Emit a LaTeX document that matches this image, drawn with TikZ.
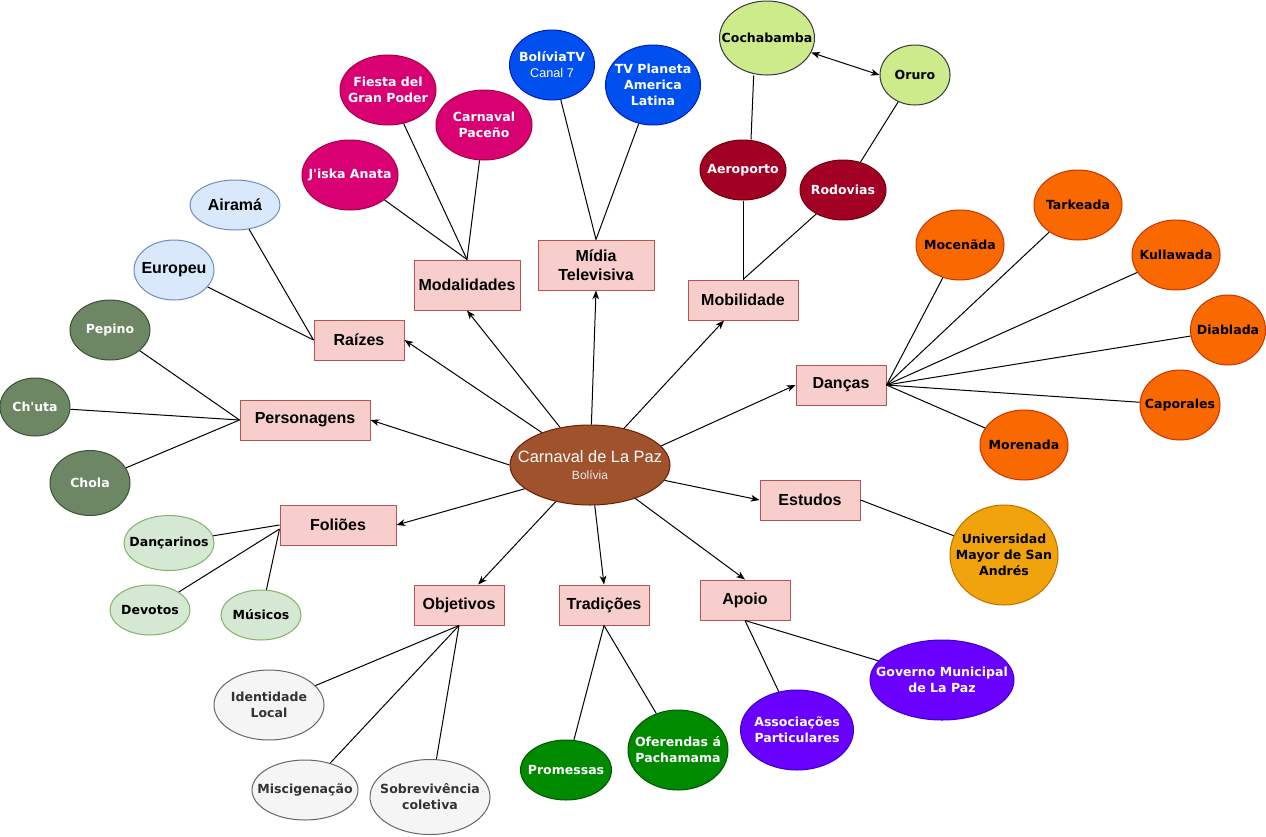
\documentclass[tikz,border=0pt]{standalone}
\usepackage{fontspec}
\setmainfont{Liberation Sans}
\newfontfamily\dejavu{DejaVu Sans}[Ligatures=TeXOff]
\usetikzlibrary{shapes.geometric,arrows.meta}
\definecolor{boxfill}{HTML}{F8CECC}\definecolor{boxline}{HTML}{B85450}
\definecolor{cfill}{HTML}{A0522D}\definecolor{cline}{HTML}{6D1F00}
\definecolor{modaf}{HTML}{D80073}\definecolor{modal}{HTML}{A50040}
\definecolor{raif}{HTML}{DAE8FC}\definecolor{rail}{HTML}{6C8EBF}
\definecolor{perf}{HTML}{6D8764}\definecolor{perl}{HTML}{3A5431}
\definecolor{folf}{HTML}{D5E8D4}\definecolor{foll}{HTML}{82B366}
\definecolor{objf}{HTML}{F5F5F5}\definecolor{objl}{HTML}{666666}\definecolor{objt}{HTML}{333333}
\definecolor{traf}{HTML}{008A00}\definecolor{tral}{HTML}{005700}
\definecolor{apof}{HTML}{6A00FF}\definecolor{apol}{HTML}{3700CC}
\definecolor{estf}{HTML}{F0A30A}\definecolor{estl}{HTML}{BD7000}
\definecolor{danf}{HTML}{FA6800}\definecolor{danl}{HTML}{C73500}
\definecolor{midf}{HTML}{0050EF}\definecolor{midl}{HTML}{001DBC}
\definecolor{mobf}{HTML}{A20025}\definecolor{mobl}{HTML}{6F0000}
\definecolor{cityf}{HTML}{CDEB8B}\definecolor{cityl}{HTML}{36393D}
\begin{document}
\begin{tikzpicture}[x=0.75pt,y=-0.75pt,
  sz/.style 2 args={minimum width=#1*0.75pt, minimum height=#2*0.75pt},
  bx/.style={rectangle, draw=boxline, fill=boxfill, line width=0.75pt, inner sep=0pt, align=center, font=\bfseries\fontsize{12pt}{14pt}\selectfont},
  el/.style={ellipse, line width=0.75pt, inner sep=0pt},
  lw/.style={inner sep=0pt, align=center, text=white, font=\dejavu\bfseries\fontsize{9.4pt}{12pt}\selectfont},
  lk/.style={lw, text=black},
  lg/.style={lw, text=objt},
  lr/.style={lw, text=black, font=\bfseries\fontsize{12pt}{14pt}\selectfont},
  conn/.style={line width=0.75pt, draw=black},
  arr/.style={conn, -{Stealth[length=6.5pt,width=5pt,inset=1.8pt]}},
  darr/.style={conn, {Stealth[length=6.5pt,width=5pt,inset=1.8pt]}-{Stealth[length=6.5pt,width=5pt,inset=1.8pt]}}
]
\fill[white] (0,0) rectangle (1266,836);
\useasboundingbox (0,0) rectangle (1266,836);

% central
\node[el, fill=cfill, draw=cline, sz={160}{80}, label={[lw, font=\fontsize{12.3pt}{13pt}\selectfont]center:{Carnaval de La Paz\\{\fontsize{9pt}{11pt}\selectfont\color{white!92!black}Bolívia}}}] (c) at (590,465) {};

% boxes
\node[bx, sz={106}{50}] (mod) at (467,285) {Modalidades};
\node[bx, sz={116}{50}] (mid) at (596,265) {Mídia\\Televisiva};
\node[bx, sz={110}{40}] (mob) at (743,300) {Mobilidade};
\node[bx, sz={90}{40}] (rai) at (359,340) {Raízes};
\node[bx, sz={130}{40}] (per) at (305,420) {Personagens};
\node[bx, sz={116}{40}] (fol) at (338,525) {Foliões};
\node[bx, sz={90}{40}] (obj) at (459,605) {Objetivos};
\node[bx, sz={90}{40}] (tra) at (604,605) {Tradições};
\node[bx, sz={90}{40}] (apo) at (745,600) {Apoio};
\node[bx, sz={100}{40}] (est) at (810,500) {Estudos};
\node[bx, sz={90}{40}] (dan) at (841,385) {Danças};

% modalidades
\node[el, fill=modaf, draw=modal, sz={96}{70}, label={[lw]center:{Fiesta del\\Gran Poder}}] (fgp) at (388,90) {};
\node[el, fill=modaf, draw=modal, sz={96}{70}, label={[lw]center:{Carnaval\\Paceño}}] (cpa) at (484,125) {};
\node[el, fill=modaf, draw=modal, sz={96}{70}, label={[lw]center:{J'iska Anata}}] (jis) at (350,175) {};

% raizes
\node[el, fill=raif, draw=rail, sz={90}{50}, label={[lr]center:{Airamá}}] (air) at (235,205) {};
\node[el, fill=raif, draw=rail, sz={80}{60}, label={[lr]center:{Europeu}}] (eur) at (174,270) {};

% personagens
\node[el, fill=perf, draw=perl, sz={80}{60}, label={[lw]center:{Pepino}}] (pep) at (110,330) {};
\node[el, fill=perf, draw=perl, sz={70}{58}, label={[lw]center:{Ch'uta}}] (chu) at (35,407) {};
\node[el, fill=perf, draw=perl, sz={80}{65}, label={[lw]center:{Chola}}] (cho) at (90,483) {};

% folioes
\node[el, fill=folf, draw=foll, sz={90}{55}, label={[lk]center:{Dançarinos}}] (dca) at (169,543) {};
\node[el, fill=folf, draw=foll, sz={80}{50}, label={[lk]center:{Devotos}}] (dev) at (150,610) {};
\node[el, fill=folf, draw=foll, sz={80}{50}, label={[lk]center:{Músicos}}] (mus) at (261,615) {};

% objetivos
\node[el, fill=objf, draw=objl, sz={110}{70}, label={[lg]center:{Identidade\\Local}}] (ide) at (269,705) {};
\node[el, fill=objf, draw=objl, sz={106}{60}, label={[lg]center:{Miscigenação}}] (mis) at (305,790) {};
\node[el, fill=objf, draw=objl, sz={120}{75}, label={[lg]center:{Sobrevivência\\coletiva}}] (sob) at (430,797) {};

% tradicoes
\node[el, fill=traf, draw=tral, sz={91}{60}, label={[lw]center:{Promessas}}] (pro) at (566,770) {};
\node[el, fill=traf, draw=tral, sz={100}{80}, label={[lw]center:{Oferendas á\\Pachamama}}] (ofe) at (678,750) {};

% apoio
\node[el, fill=apof, draw=apol, sz={113}{80}, label={[lw]center:{Associações\\Particulares}}] (ass) at (797,730) {};
\node[el, fill=apof, draw=apol, sz={144}{80}, label={[lw]center:{Governo Municipal\\de La Paz}}] (gov) at (942,680) {};

% estudos
\node[el, fill=estf, draw=estl, sz={108}{100}, label={[lk]center:{Universidad\\Mayor de San\\Andrés}}] (uni) at (1004,555) {};

% dancas
\node[el, fill=danf, draw=danl, sz={88}{70}, label={[lk]center:{Mocenãda}}] (moc) at (960,245) {};
\node[el, fill=danf, draw=danl, sz={88}{70}, label={[lk]center:{Tarkeada}}] (tar) at (1078,205) {};
\node[el, fill=danf, draw=danl, sz={88}{70}, label={[lk]center:{Kullawada}}] (kul) at (1176,255) {};
\node[el, fill=danf, draw=danl, sz={75}{70}, label={[lk]center:{Diablada}}] (dia) at (1228,330) {};
\node[el, fill=danf, draw=danl, sz={80}{70}, label={[lk]center:{Caporales}}] (cap) at (1180,405) {};
\node[el, fill=danf, draw=danl, sz={88}{70}, label={[lk]center:{Morenada}}] (mor) at (1024,445) {};

% midia
\node[el, fill=midf, draw=midl, sz={85}{70}, label={[lw]center:{BolíviaTV\\{\normalfont\fontsize{9.5pt}{11pt}\selectfont Canal 7}}}] (btv) at (552,65) {};
\node[el, fill=midf, draw=midl, sz={95}{80}, label={[lw]center:{TV Planeta\\America\\Latina}}] (tvp) at (653,85) {};

% mobilidade
\node[el, fill=mobf, draw=mobl, sz={86}{60}, label={[lw]center:{Aeroporto}}] (aer) at (743,170) {};
\node[el, fill=mobf, draw=mobl, sz={86}{60}, label={[lw]center:{Rodovias}}] (rod) at (843,190) {};
\node[el, fill=cityf, draw=cityl, sz={95}{74}, label={[lk]center:{Cochabamba}}] (coc) at (767,38) {};
\node[el, fill=cityf, draw=cityl, sz={70}{60}, label={[lk]center:{Oruro}}] (oru) at (915,75) {};

% arrows from centre
\draw[arr] (c) -- (mod.south);
\draw[arr] (c) -- (mid.south);
\draw[arr] (c) -- (mob);
\draw[arr] (c) -- (rai.east);
\draw[arr] (c.180) -- (per.east);
\draw[arr] (c.200) -- (fol.east);
\draw[arr] (c) -- (obj);
\draw[arr] (c) -- (tra.north);
\draw[arr] (c) -- (apo.north);
\draw[arr] (c) -- (est.west);
\draw[arr] (c.15) -- (dan.west);

% plain connectors
\draw[conn] (mod.north) -- (fgp);
\draw[conn] (mod.north) -- (cpa);
\draw[conn] (mod.north) -- (jis);
\draw[conn] (mid.north) -- (btv);
\draw[conn] (mid.north) -- (tvp);
\draw[conn] (mob.north) -- (aer);
\draw[conn] (mob.north) -- (rod);
\draw[conn] ([xshift=6pt]aer.north) -- ([xshift=-10pt]coc.south);
\draw[conn] (rod) -- (oru);
\draw[darr] (coc) -- (oru.west);
\draw[conn] (rai.west) -- (air);
\draw[conn] (rai.west) -- (eur);
\draw[conn] (per.west) -- (pep);
\draw[conn] (per.west) -- (chu);
\draw[conn] (per.west) -- (cho);
\draw[conn] (fol.west) -- (dca);
\draw[conn] ([yshift=-3pt]fol.west) -- (dev);
\draw[conn] ([yshift=-3pt]fol.west) -- (mus);
\draw[conn] (obj.south) -- (ide);
\draw[conn] (obj.south) -- (mis);
\draw[conn] (obj.south) -- (sob);
\draw[conn] (tra.south) -- (pro);
\draw[conn] (tra.south) -- (ofe);
\draw[conn] (apo.south) -- (ass);
\draw[conn] (apo.south) -- (gov);
\draw[conn] (est.east) -- (uni);
\draw[conn] (dan.east) -- (moc);
\draw[conn] (dan.east) -- (tar);
\draw[conn] (dan.east) -- (kul);
\draw[conn] (dan.east) -- (dia);
\draw[conn] (dan.east) -- (cap);
\draw[conn] (dan.east) -- (mor);
\end{tikzpicture}
\end{document}
